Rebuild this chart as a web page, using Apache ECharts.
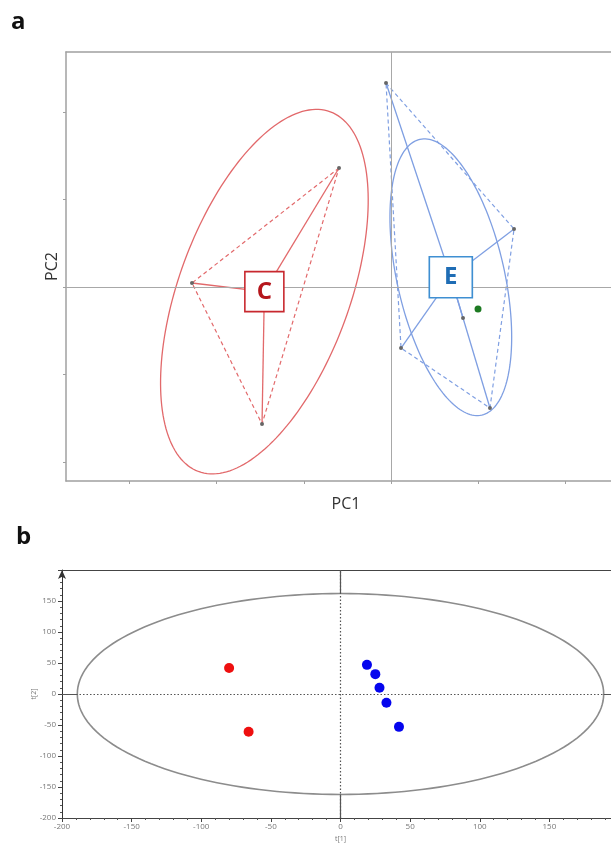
<!DOCTYPE html>
<html>
<head>
<meta charset="utf-8">
<script src="https://cdn.jsdelivr.net/npm/echarts@6/dist/echarts.min.js"></script>
<style>
html,body{margin:0;padding:0;background:#fff;overflow:hidden;width:611px;height:843px;}
#chart{width:640px;height:843px;}
</style>
</head>
<body>
<div id="chart"></div>
<script>
// ---------- Panel a (PCA, arbitrary units) ----------
const groupC = [[-0.596, 1.36], [-2.282, 0.046], [-1.479, -1.566]];
const groupE = [[-0.057, 2.331], [1.411, 0.663], [0.115, -0.697], [1.135, -1.383], [0.826, -0.354]];
const hullC = [0, 1, 2, 0];
const hullE = [0, 1, 3, 2, 0];
const extraPoint = [[0.998, -0.251]];
// ellipse: [cx, cy, semiMajor, semiMinor, angleDeg]
const ellipseC = [-1.452, -0.053, 2.19, 0.98, 69.8];
const ellipseE = [0.686, 0.112, 1.615, 0.616, 102.7];
const aTicksX = [-3, -2, -1, 0, 1, 2];
const aTicksY = [-2, -1, 0, 1, 2];

// ---------- Panel b (scores t[1] vs t[2]) ----------
const scoresRed = [[-80, 42], [-66, -61]];
const scoresBlue = [[19, 47], [25, 32], [28, 10], [33, -14], [42, -53]];
const ellipseB = [0, 0, 189, 162, 0];

const chart = echarts.init(document.getElementById('chart'), null, {renderer: 'canvas'});

function centroid(pts) {
  let sx = 0, sy = 0;
  pts.forEach(p => { sx += p[0]; sy += p[1]; });
  return [sx / pts.length, sy / pts.length];
}
function hullLine(pts, order) { return order.map(i => pts[i]); }
function starLines(pts) {
  const c = centroid(pts);
  return pts.map(p => ({coords: [p, c]}));
}
function ellipseSeries(params, xi, yi, color, width) {
  return {
    type: 'custom', xAxisIndex: xi, yAxisIndex: yi, silent: true, z: 3,
    data: [params],
    encode: {x: 0, y: 1},
    renderItem: function (p, api) {
      const cx = api.value(0), cy = api.value(1), a = api.value(2), b = api.value(3);
      const phi = api.value(4) * Math.PI / 180;
      const pts = [];
      for (let k = 0; k < 180; k++) {
        const t = k / 180 * Math.PI * 2;
        const dx = a * Math.cos(t), dy = b * Math.sin(t);
        pts.push(api.coord([cx + dx * Math.cos(phi) - dy * Math.sin(phi),
                            cy + dx * Math.sin(phi) + dy * Math.cos(phi)]));
      }
      return {type: 'polygon', shape: {points: pts}, style: {fill: 'none', stroke: color, lineWidth: width}};
    }
  };
}

const redLine = '#e2696b', blueLine = '#7f9fe2';
const ptColor = '#666';
const fontA = '"Open Sans", "Liberation Sans", sans-serif';

const cC = centroid(groupC), cE = centroid(groupE);

// outer solid parts of crosshair in panel b (from axis edge to ellipse)
const bXmin = -200, bXmax = 200, bYmin = -200, bYmax = 200;
const crossOuter = [
  {coords: [[bXmin, 0], [ellipseB[0] - ellipseB[2], 0]]},
  {coords: [[ellipseB[0] + ellipseB[2], 0], [bXmax, 0]]},
  {coords: [[0, bYmin], [0, ellipseB[1] - ellipseB[3]]]},
  {coords: [[0, ellipseB[1] + ellipseB[3]], [0, bYmax]]}
];

const option = {
  animation: false,
  backgroundColor: '#fff',
  graphic: [
    {type: 'text', left: 11, top: 10, style: {text: 'a', font: 'bold 24px ' + fontA, fill: '#111'}},
    {type: 'text', left: 16, top: 525, style: {text: 'b', font: 'bold 24px ' + fontA, fill: '#111'}}
  ],
  grid: [
    {left: 66, top: 52, width: 560, height: 429},
    {left: 62, top: 570, width: 557, height: 248}
  ],
  xAxis: [
    {
      gridIndex: 0, type: 'value', min: -3.727, max: 2.695, position: 'bottom',
      axisLine: {onZero: false, lineStyle: {color: '#a0a0a0', width: 1.5}},
      axisTick: {show: true, customValues: aTicksX, length: 3, lineStyle: {color: '#a0a0a0'}},
      axisLabel: {show: false}, splitLine: {show: false},
      name: 'PC1', nameLocation: 'middle', nameGap: 15,
      nameTextStyle: {fontSize: 16, color: '#333', fontFamily: fontA}
    },
    {
      gridIndex: 0, type: 'value', min: -3.727, max: 2.695, position: 'top',
      axisLine: {onZero: false, lineStyle: {color: '#a0a0a0', width: 1.5}},
      axisTick: {show: false}, axisLabel: {show: false}, splitLine: {show: false}
    },
    {
      gridIndex: 1, type: 'value', min: bXmin, max: bXmax, interval: 50, position: 'bottom',
      axisLine: {onZero: false, lineStyle: {color: '#444', width: 1}},
      axisTick: {show: true, length: 4, lineStyle: {color: '#444'}},
      minorTick: {show: true, splitNumber: 5, length: 2, lineStyle: {color: '#555'}},
      axisLabel: {fontSize: 8, color: '#777', margin: 5, fontFamily: fontA},
      splitLine: {show: false},
      name: 't[1]', nameLocation: 'middle', nameGap: 17,
      nameTextStyle: {fontSize: 7, color: '#777', fontFamily: fontA}
    },
    {
      gridIndex: 1, type: 'value', min: bXmin, max: bXmax, position: 'top',
      axisLine: {onZero: false, lineStyle: {color: '#444', width: 1}},
      axisTick: {show: false}, axisLabel: {show: false}, splitLine: {show: false}
    }
  ],
  yAxis: [
    {
      gridIndex: 0, type: 'value', min: -2.217, max: 2.686, position: 'left',
      axisLine: {onZero: false, lineStyle: {color: '#a0a0a0', width: 1.5}},
      axisTick: {show: true, customValues: aTicksY, length: 3, lineStyle: {color: '#a0a0a0'}},
      axisLabel: {show: false}, splitLine: {show: false},
      name: 'PC2', nameLocation: 'middle', nameRotate: 90, nameGap: 6,
      nameTextStyle: {fontSize: 16, color: '#333', fontFamily: fontA}
    },
    {
      gridIndex: 1, type: 'value', min: bYmin, max: bYmax, interval: 50, position: 'left',
      axisLine: {onZero: false, symbol: ['none', 'arrow'], symbolSize: [6, 9], lineStyle: {color: '#333', width: 1}},
      axisTick: {show: true, length: 4, lineStyle: {color: '#444'}},
      minorTick: {show: true, splitNumber: 5, length: 2, lineStyle: {color: '#555'}},
      axisLabel: {fontSize: 8, color: '#777', margin: 6, showMaxLabel: false, fontFamily: fontA},
      splitLine: {show: false},
      name: 't[2]', nameLocation: 'middle', nameRotate: 90, nameGap: 25, nameMoveOverlap: false,
      nameTextStyle: {fontSize: 7, color: '#777', fontFamily: fontA}
    }
  ],
  series: [
    // ----- panel a -----
    {
      type: 'line', xAxisIndex: 0, yAxisIndex: 0, data: [], silent: true,
      markLine: {silent: true, symbol: 'none', label: {show: false},
        lineStyle: {color: '#a8a8a8', width: 1, type: 'solid'},
        data: [{xAxis: 0}, {yAxis: 0}]}
    },
    ellipseSeries(ellipseC, 0, 0, redLine, 1.3),
    ellipseSeries(ellipseE, 0, 0, blueLine, 1.3),
    {
      type: 'line', xAxisIndex: 0, yAxisIndex: 0, data: hullLine(groupC, hullC), symbol: 'none', silent: true, z: 4,
      lineStyle: {color: redLine, width: 1.2, type: [4, 3]}
    },
    {
      type: 'line', xAxisIndex: 0, yAxisIndex: 0, data: hullLine(groupE, hullE), symbol: 'none', silent: true, z: 4,
      lineStyle: {color: blueLine, width: 1.2, type: [4, 3]}
    },
    {
      type: 'lines', coordinateSystem: 'cartesian2d', xAxisIndex: 0, yAxisIndex: 0, silent: true, z: 4,
      data: starLines(groupC), lineStyle: {color: redLine, width: 1.3, opacity: 1}
    },
    {
      type: 'lines', coordinateSystem: 'cartesian2d', xAxisIndex: 0, yAxisIndex: 0, silent: true, z: 4,
      data: starLines(groupE), lineStyle: {color: blueLine, width: 1.3, opacity: 1}
    },
    {
      type: 'scatter', xAxisIndex: 0, yAxisIndex: 0, data: groupC.concat(groupE), symbolSize: 4, z: 5,
      itemStyle: {color: ptColor, opacity: 1}
    },
    {
      type: 'scatter', xAxisIndex: 0, yAxisIndex: 0, data: extraPoint, symbolSize: 7, z: 5,
      itemStyle: {color: '#1d7a22', opacity: 1}
    },
    {
      type: 'scatter', xAxisIndex: 0, yAxisIndex: 0, data: [cC], symbol: 'rect', symbolSize: [39, 40], z: 8,
      itemStyle: {color: '#fff', borderColor: '#c8282e', borderWidth: 1.6, opacity: 1},
      label: {show: true, position: 'inside', formatter: 'C', fontSize: 24, fontWeight: 'bold', color: '#b5161c', fontFamily: fontA}
    },
    {
      type: 'scatter', xAxisIndex: 0, yAxisIndex: 0, data: [cE], symbol: 'rect', symbolSize: [43, 41], z: 8,
      itemStyle: {color: '#fff', borderColor: '#3f8fd2', borderWidth: 1.6, opacity: 1},
      label: {show: true, position: 'inside', formatter: 'E', fontSize: 24, fontWeight: 'bold', color: '#1f6db5', fontFamily: fontA}
    },
    // ----- panel b -----
    {
      type: 'line', xAxisIndex: 2, yAxisIndex: 1, data: [], silent: true,
      markLine: {silent: true, symbol: 'none', label: {show: false},
        lineStyle: {color: '#555', width: 1.2, type: [1.5, 2]},
        data: [{xAxis: 0}, {yAxis: 0}]}
    },
    {
      type: 'lines', coordinateSystem: 'cartesian2d', xAxisIndex: 2, yAxisIndex: 1, silent: true, z: 4,
      data: crossOuter, lineStyle: {color: '#555', width: 1.2, opacity: 1}
    },
    ellipseSeries(ellipseB, 2, 1, '#8c8c8c', 1.6),
    {
      type: 'scatter', xAxisIndex: 2, yAxisIndex: 1, data: scoresRed, symbolSize: 10, z: 6,
      itemStyle: {color: '#ee0f0f', opacity: 1}
    },
    {
      type: 'scatter', xAxisIndex: 2, yAxisIndex: 1, data: scoresBlue, symbolSize: 10, z: 6,
      itemStyle: {color: '#0505ee', opacity: 1}
    }
  ]
};
chart.setOption(option);
</script>
</body>
</html>
